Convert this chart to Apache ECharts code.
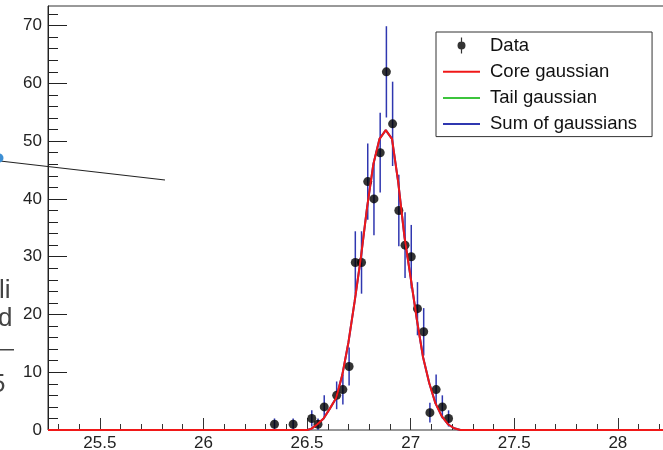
<!DOCTYPE html>
<html>
<head>
<meta charset="utf-8">
<script src="https://cdn.jsdelivr.net/npm/echarts@6/dist/echarts.min.js"></script>
<style>
  html, body { margin: 0; padding: 0; background: #fff; }
  #chart { width: 663px; height: 450px; }
</style>
</head>
<body>
<div id="chart"></div>
<script>
// histogram bins (centres) and counts
const binX = [26.343, 26.433, 26.523, 26.553, 26.583, 26.643, 26.673, 26.703, 26.733, 26.763, 26.793, 26.823,
  26.853, 26.883, 26.913, 26.943, 26.973, 27.003, 27.033, 27.063, 27.093, 27.123, 27.153, 27.183];
const counts = [1, 1, 2, 1, 4, 6, 7, 11, 29, 29, 43, 40, 48, 62, 53, 38, 32, 30, 21, 17, 3, 7, 4, 2];
const errs = [1, 1, 1.4, 1, 2, 2.4, 2.6, 3.3, 5.4, 5.4, 6.6, 6.3, 6.9, 7.9, 7.3, 6.2, 5.7, 5.5, 4.6, 4.1, 1.7, 2.6, 2, 1.4];

// fitted core gaussian
const coreX = [25.25, 26.50, 26.52, 26.55, 26.58, 26.61, 26.64, 26.67, 26.70, 26.73, 26.76, 26.79, 26.82, 26.85,
  26.88, 26.91, 26.94, 26.97, 27.00, 27.03, 27.06, 27.09, 27.12, 27.15, 27.18, 27.21, 27.24, 28.85];
const coreY = [0, 0, 0.2, 1.0, 2.0, 3.7, 5.5, 9.5, 15.2, 22.3, 29.9, 38.6, 46.0, 50.4,
  51.9, 50.4, 42.9, 33.5, 26.4, 19.1, 12.6, 8.1, 4.6, 2.4, 1.0, 0.3, 0, 0];

const xMajor = [25.5, 26, 26.5, 27, 27.5, 28, 28.5];
const xMinor = [];
for (let v = 253; v <= 288; v++) xMinor.push(v / 10);
const yMajor = [0, 10, 20, 30, 40, 50, 60, 70];
const yMinor = [];
for (let v = 0; v <= 72; v += 2) yMinor.push(v);

const chart = echarts.init(document.getElementById('chart'));

const txt = { color: '#222', fontFamily: 'Liberation Sans, Arial, sans-serif', fontSize: 17 };
const lineIcon = 'path://M0,0H37V2H0Z';

chart.setOption({
  backgroundColor: '#fff',
  animation: false,
  grid: {
    left: 48, top: 6, right: -131, bottom: 20,
    show: true, borderColor: '#333', borderWidth: 1,
    outerBoundsMode: 'none'
  },
  xAxis: [
    {
      type: 'value', min: 25.25, max: 28.85,
      axisLine: { show: false },
      axisTick: { inside: true, length: 12, customValues: xMajor, lineStyle: { color: '#333' } },
      axisLabel: Object.assign({ customValues: xMajor, margin: 5 }, txt),
      splitLine: { show: false }
    },
    {
      type: 'value', min: 25.25, max: 28.85, position: 'bottom',
      axisLine: { show: false },
      axisTick: { inside: true, length: 6, customValues: xMinor, lineStyle: { color: '#333' } },
      axisLabel: { show: false },
      splitLine: { show: false }
    }
  ],
  yAxis: [
    {
      type: 'value', min: 0, max: 73.4, position: 'left',
      axisLine: { show: true, lineStyle: { color: '#222' } },
      axisTick: { inside: true, length: 19, customValues: yMajor, lineStyle: { color: '#222' } },
      axisLabel: Object.assign({ customValues: yMajor, margin: 6 }, txt),
      splitLine: { show: false }
    },
    {
      type: 'value', min: 0, max: 73.4, position: 'left',
      axisLine: { show: false },
      axisTick: { inside: true, length: 10, customValues: yMinor, lineStyle: { color: '#222' } },
      axisLabel: { show: false },
      splitLine: { show: false }
    }
  ],
  legend: {
    orient: 'vertical',
    left: 436, top: 32,
    padding: [4, 15, 3, 7],
    borderColor: '#333', borderWidth: 1,
    backgroundColor: '#fff',
    itemWidth: 37, itemHeight: 16, itemGap: 7.2,
    textStyle: { color: '#111', fontFamily: 'Liberation Sans, Arial, sans-serif', fontSize: 18.5, padding: [0, 0, 0, 5] },
    data: [
      { name: 'Data', icon: 'path://M3.4,0H4.6V16H3.4Z M0,8A4,4,0,1,1,8,8A4,4,0,1,1,0,8Z' },
      { name: 'Core gaussian', icon: lineIcon },
      { name: 'Tail gaussian', icon: lineIcon },
      { name: 'Sum of gaussians', icon: lineIcon }
    ]
  },
  graphic: [
    { type: 'line', shape: { x1: 0, y1: 161, x2: 165, y2: 180 }, style: { stroke: '#222', lineWidth: 1.2 }, z: 100 },
    { type: 'circle', shape: { cx: -1, cy: 158, r: 4.5 }, style: { fill: '#3d8fd4' }, z: 100 },
    { type: 'text', style: { text: 'li', x: -1, y: 278, font: '26px Liberation Sans', fill: '#444' } },
    { type: 'text', style: { text: 'd', x: -2, y: 306, font: '26px Liberation Sans', fill: '#444' } },
    { type: 'rect', shape: { x: 0, y: 349, width: 14, height: 1.5 }, style: { fill: '#444' } },
    { type: 'text', style: { text: '5', x: -9, y: 372, font: '26px Liberation Sans', fill: '#444' } }
  ],
  series: [
    {
      name: 'errors',
      type: 'custom',
      renderItem: function (params, api) {
        const x = api.value(0), y = api.value(1), e = api.value(2);
        const p1 = api.coord([x, y - e]);
        const p2 = api.coord([x, y + e]);
        return {
          type: 'line',
          shape: { x1: p1[0], y1: p1[1], x2: p2[0], y2: p2[1] },
          style: { stroke: '#2f37b0', lineWidth: 1.5 }
        };
      },
      data: binX.map((x, i) => [x, counts[i], errs[i]]),
      z: 2
    },
    {
      name: 'Data',
      type: 'scatter',
      symbol: 'circle',
      symbolSize: 9,
      itemStyle: { color: '#000' },
      data: binX.map((x, i) => [x, counts[i]]),
      z: 3
    },
    {
      name: 'Tail gaussian',
      type: 'line',
      symbol: 'none',
      lineStyle: { color: '#3cc43c', width: 2 },
      itemStyle: { color: '#3cc43c' },
      data: [],
      z: 3
    },
    {
      name: 'Sum of gaussians',
      type: 'line',
      symbol: 'none',
      lineStyle: { color: '#2f37b0', width: 2 },
      itemStyle: { color: '#2f37b0' },
      data: coreX.map((x, i) => [x, coreY[i]]),
      z: 3
    },
    {
      name: 'Core gaussian',
      type: 'line',
      symbol: 'none',
      clip: false,
      lineStyle: { color: '#f01818', width: 2 },
      itemStyle: { color: '#f01818' },
      data: coreX.map((x, i) => [x, coreY[i]]),
      z: 4
    }
  ]
});
</script>
</body>
</html>
